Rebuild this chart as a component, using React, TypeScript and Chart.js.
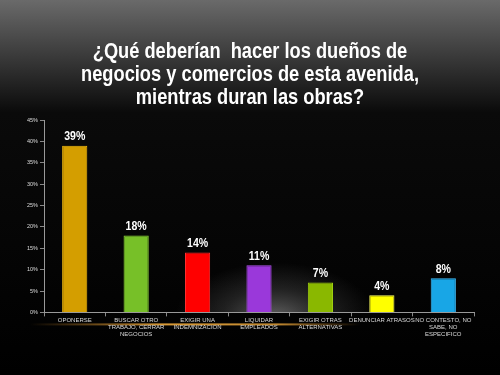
import React, { useEffect, useRef } from "react";
import { Chart, registerables } from "chart.js";

Chart.register(...registerables);

const titleLines = [
  "¿Qué deberían  hacer los dueños de",
  "negocios y comercios de esta avenida,",
  "mientras duran las obras?",
];

const categories: string[][] = [
  ["OPONERSE"],
  ["BUSCAR OTRO", "TRABAJO, CERRAR", "NEGOCIOS"],
  ["EXIGIR UNA", "INDEMNIZACION"],
  ["LIQUIDAR", "EMPLEADOS"],
  ["EXIGIR OTRAS", "ALTERNATIVAS"],
  ["DENUNCIAR ATRASOS"],
  ["NO CONTESTO, NO", "SABE, NO", "ESPECIFICO"],
];

const values = [39, 18, 14, 11, 7, 4, 8];

const barColors = ["#D49E00", "#77C028", "#FF0000", "#9A38DA", "#8AB800", "#FFFF00", "#18A6E6"];
const barBorders = ["#F2BA10", "#8FD83A", "#FF3030", "#B050F0", "#A0D010", "#FFFF60", "#40C0FF"];

const yTicks = [0, 5, 10, 15, 20, 25, 30, 35, 40, 45];

const FONT = "'Liberation Sans', Arial, sans-serif";

const bgPlugin = {
  id: "bgDeco",
  beforeDraw(chart: any) {
    const { ctx, chartArea, width, height } = chart;
    ctx.save();
    const g = ctx.createLinearGradient(0, 0, 0, height);
    g.addColorStop(0, "#6a6a6a");
    g.addColorStop(0.3, "#0a0a0a");
    g.addColorStop(1, "#000000");
    ctx.fillStyle = g;
    ctx.fillRect(0, 0, width, height);
    // soft spotlight near bottom middle
    ctx.save();
    ctx.beginPath();
    ctx.rect(chartArea.left + 1, chartArea.top, chartArea.right - chartArea.left, chartArea.bottom - chartArea.top);
    ctx.clip();
    ctx.translate(275, chartArea.bottom + 5);
    ctx.scale(1, 0.55);
    const rg = ctx.createRadialGradient(0, 0, 5, 0, 0, 100);
    rg.addColorStop(0, "rgba(150,150,150,0.6)");
    rg.addColorStop(0.5, "rgba(110,110,110,0.28)");
    rg.addColorStop(1, "rgba(100,100,100,0)");
    ctx.fillStyle = rg;
    ctx.fillRect(-110, -110, 220, 220);
    ctx.restore();
    // orange glow line under axis
    const y = chartArea.bottom + 11;
    const lg = ctx.createLinearGradient(30, 0, 360, 0);
    lg.addColorStop(0, "rgba(230,150,40,0)");
    lg.addColorStop(0.4, "rgba(240,170,60,0.9)");
    lg.addColorStop(0.75, "rgba(240,170,60,0.8)");
    lg.addColorStop(1, "rgba(230,150,40,0)");
    ctx.fillStyle = lg;
    ctx.fillRect(30, y, 330, 2);
    // title (condensed)
    ctx.fillStyle = "#ffffff";
    ctx.font = `bold 22px ${FONT}`;
    ctx.textAlign = "center";
    ctx.textBaseline = "alphabetic";
    const baselines = [58, 81, 104];
    titleLines.forEach((line, i) => {
      ctx.save();
      ctx.translate(width / 2, baselines[i]);
      ctx.scale(0.83, 1);
      ctx.fillText(line, 0, 0);
      ctx.restore();
    });
    ctx.restore();
  },
};

const labelPlugin = {
  id: "valLabels",
  afterDatasetsDraw(chart: any) {
    const { ctx } = chart;
    const meta = chart.getDatasetMeta(0);
    ctx.save();
    ctx.fillStyle = "#ffffff";
    ctx.font = `bold 12px ${FONT}`;
    ctx.textAlign = "center";
    ctx.textBaseline = "bottom";
    meta.data.forEach((bar: any, i: number) => {
      ctx.save();
      ctx.translate(bar.x, bar.y - 3);
      ctx.scale(0.88, 1);
      ctx.fillText(`${values[i]}%`, 0, 0);
      ctx.restore();
    });
    ctx.restore();
  },
};

export default function App() {
  const ref = useRef<HTMLCanvasElement>(null);
  useEffect(() => {
    if (!ref.current) return;
    const chart = new Chart(ref.current, {
      type: "bar",
      data: {
        labels: categories,
        datasets: [
          {
            data: values,
            backgroundColor: barColors,
            borderColor: barBorders,
            borderWidth: 1,
            categoryPercentage: 1,
            barPercentage: 0.41,
          },
        ],
      },
      options: {
        animation: false,
        responsive: false,
        maintainAspectRatio: false,
        layout: { padding: { left: 25, right: 26, top: 120, bottom: 37 } },
        plugins: {
          legend: { display: false },
          tooltip: { enabled: false },
          title: { display: false },
        },
        scales: {
          x: {
            grid: {
              display: true,
              drawOnChartArea: false,
              color: "#888888",
              tickLength: 4,
              offset: true,
            },
            border: { color: "#999999", width: 1 },
            ticks: {
              color: "#dddddd",
              font: { family: FONT, size: 6 },
              maxRotation: 0,
              autoSkip: false,
              padding: 0,
            },
          },
          y: {
            min: 0,
            max: 45,
            grid: { display: true, drawOnChartArea: false, color: "#888888", tickLength: 4 },
            border: { color: "#999999", width: 1 },
            afterBuildTicks(scale: any) {
              scale.ticks = yTicks.map((v) => ({ value: v }));
            },
            ticks: {
              color: "#dddddd",
              font: { family: FONT, size: 5.5 },
              padding: 2,
              callback: (v: any) => `${v}%`,
            },
          },
        },
      },
      plugins: [bgPlugin, labelPlugin],
    });
    return () => chart.destroy();
  }, []);
  return (
    <div style={{ position: "fixed", left: 0, top: 0, width: 500, height: 375, background: "#000" }}>
      <canvas ref={ref} width={500} height={375} style={{ display: "block" }} />
    </div>
  );
}
